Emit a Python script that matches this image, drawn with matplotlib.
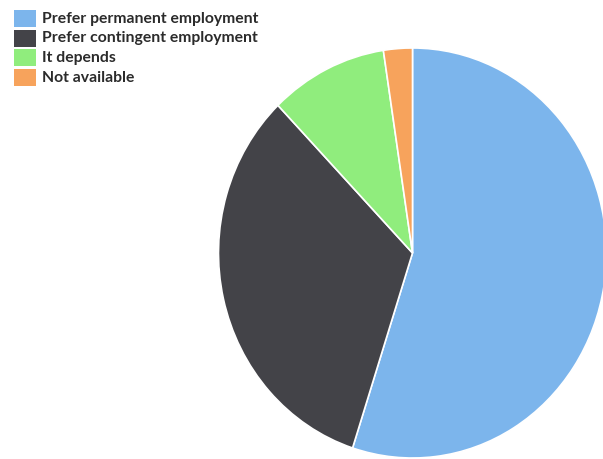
import matplotlib.pyplot as plt
from matplotlib.patches import Rectangle

labels = ['Prefer permanent employment', 'Prefer contingent employment', 'It depends', 'Not available']
values = [55.0, 32.8, 9.8, 2.4]
colors = ['#7cb5ec', '#434348', '#90ed7d', '#f7a35c']

W, H = 603, 459
fig = plt.figure(figsize=(W / 100, H / 100), dpi=100)

# pie is slightly squashed horizontally in the reference
cx, cy, rx, ry = 412.5, 253, 194, 205
ax = fig.add_axes([(cx - rx) / W, (H - cy - ry) / H, 2 * rx / W, 2 * ry / H])
ax.pie(values, colors=colors, startangle=90, counterclock=False,
       wedgeprops=dict(edgecolor='white', linewidth=1.2))
ax.set_aspect('auto')
ax.set_xlim(-1, 1)
ax.set_ylim(-1, 1)
ax.axis('off')

# legend drawn by hand
for i, (lab, col) in enumerate(zip(labels, colors)):
    top = 10 + i * 19.7
    fig.patches.append(Rectangle((14 / W, 1 - (top + 17) / H), 22 / W, 17 / H,
                                 transform=fig.transFigure, facecolor=col, edgecolor='none'))
    fig.text(42 / W, 1 - (top + 8.5) / H, lab, ha='left', va='center',
             fontsize=11.3, fontweight='bold', family='Lato', color='#2b2b2b')

fig.savefig('out.png', dpi=100)
